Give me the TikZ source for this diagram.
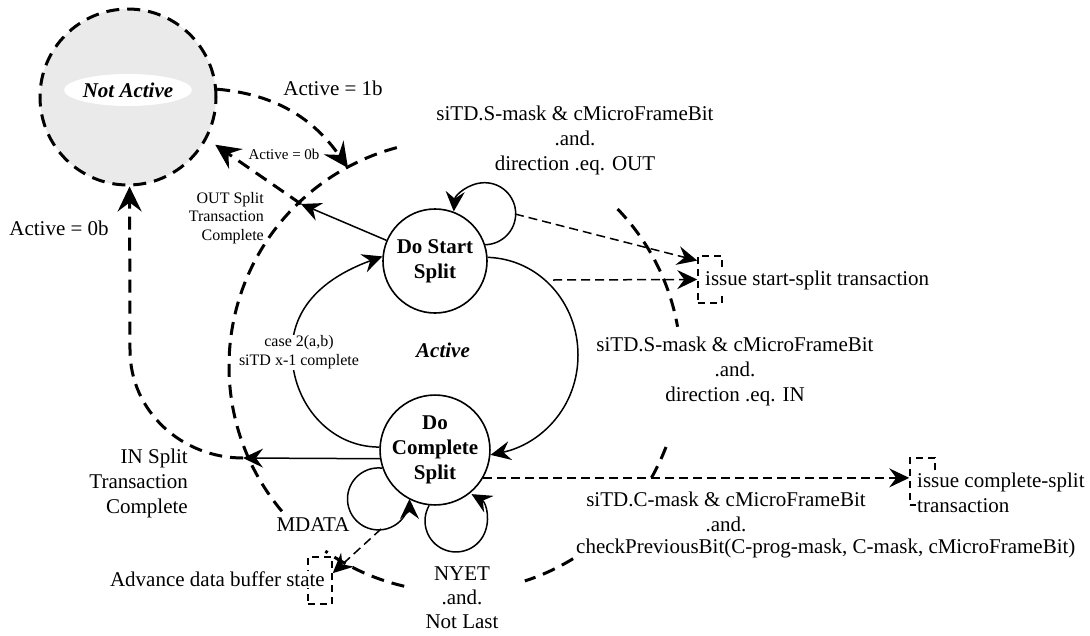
\documentclass[tikz,border=0pt]{standalone}
\usepackage{fontspec}
\setmainfont{Liberation Serif}
\usetikzlibrary{arrows.meta,shapes.geometric}
\definecolor{nafill}{HTML}{EAEAEA}
\begin{document}
\begin{tikzpicture}[x=1pt,y=-1pt,
  lbl/.style={font=\fontsize{21}{25}\selectfont, inner sep=1pt},
  lblS/.style={font=\fontsize{16}{18.5}\selectfont, inner sep=1pt},
  lblXS/.style={font=\fontsize{15}{18}\selectfont, inner sep=1pt},
  state/.style={circle, draw, line width=1.6pt, minimum size=104pt, inner sep=0pt, align=center,
                font=\fontsize{21}{25}\selectfont\bfseries},
  thickdash/.style={line width=3pt, dash pattern=on 13pt off 8pt},
  thindash/.style={line width=1.5pt, dash pattern=on 9pt off 5pt},
  boxdash/.style={draw, line width=1.5pt, dash pattern=on 7pt off 5pt, inner sep=0pt},
  arrA/.style={-{Stealth[length=20pt,width=19pt,inset=7pt]}},
  arrB/.style={-{Stealth[length=25pt,width=24pt,inset=9pt]}},
  solidA/.style={line width=1.5pt, arrA}
]
\useasboundingbox (0,0) rectangle (1090,635);

% boundary of the Active region (dashed circle with gaps)
\coordinate (C) at (455,366);
\draw[thickdash] (C) ++(44:226pt) arc[start angle=44, end angle=10, radius=226pt];
\draw[thickdash] (C) ++(-21:226pt) arc[start angle=-21, end angle=-31, radius=226pt];
\draw[thickdash] (C) ++(-58.5:226pt) arc[start angle=-58.5, end angle=-72, radius=226pt];
\draw[thickdash] (C) ++(-103:226pt) arc[start angle=-103, end angle=-125, radius=226pt];
\draw[thickdash] (C) ++(-140:226pt) arc[start angle=-140, end angle=-256, radius=226pt];

% states
\node[circle, draw, thickdash, fill=nafill, minimum size=176pt, inner sep=0pt] (na) at (128,97) {};
\node[ellipse, fill=white, minimum width=120pt, minimum height=32pt, inner sep=0pt,
      font=\fontsize{21}{25}\selectfont\bfseries\itshape] (nalbl) at (128,90) {Not Active};
\node[state] (ds) at (435,261) {Do Start\\Split};
\node[state, minimum size=106pt] (dc) at (435,450) {Do\\Complete\\Split};

% coordinates
\coordinate (outTip) at (301,204);
\coordinate (inTip) at (243,458);
\coordinate (oneTip) at (348,168);
\coordinate (l1) at (515,214);
\coordinate (l2) at (381,529);
\coordinate (ds2) at (553,280);
\coordinate (rm) at (578,355);
\coordinate (lm) at (292,352);
\coordinate (lv) at (130,350);

% action boxes
\node[boxdash, minimum width=24pt, minimum height=47pt] (ib1) at (710,279.5) {};
\node[boxdash, minimum width=25pt, minimum height=47pt] (ib2) at (922.5,481.5) {};
\node[boxdash, minimum width=24pt, minimum height=47pt] (ib3) at (320,580.5) {};
\node[lbl, anchor=west, fill=white] (t1) at (704,280) {issue start-split transaction};
\node[lbl, anchor=west, fill=white, align=left] (t2) at (916,492.5) {issue complete-split\\transaction};
\node[lbl, anchor=east, fill=white] (t3) at (326,579) {Advance data buffer state};

% big transitions
\draw[solidA] (ds.4) to[out=-2,in=90] (rm) to[out=-90,in=12] (dc.-5);
\draw[solidA] (dc.177) to[out=180,in=-90] (lm) to[out=90,in=200] (ds.175);

% self loops
\draw[solidA] (ds.18) arc[start angle=-89, end angle=176, radius=31pt];
\draw[solidA] (dc.199) arc[start angle=83, end angle=360, radius=31pt];
\draw[solidA] (dc.-96) arc[start angle=150, end angle=420, radius=31pt];

% exits
\draw[solidA] (ds) -- (outTip);
\draw[solidA] (dc.189) -- (inTip);
\draw[thickdash, arrB, shorten >=10pt] (outTip) -- (na.-28);
\draw[thickdash, arrB] (na.5) to[out=-5,in=125] (oneTip);
\draw[thickdash, arrB] (inTip) to[out=180,in=-90] (lv) -- (na.-89);

% actions
\draw[thindash, arrA] (l1) -- (ib1.124);
\draw[thindash, arrA] (ds2) -- (ib1.west);
\draw[thindash, arrA] (dc.-30) -- (dc.-30 -| ib2.west);
\draw[thindash, arrA] (l2) -- (ib3.30);

% labels
\node[lbl, align=center] (c1) at (575,140) {siTD.S-mask \& cMicroFrameBit\\.and.\\direction .eq. OUT};
\node[lbl, align=center] (c2) at (735,371) {siTD.S-mask \& cMicroFrameBit\\.and.\\direction .eq. IN};
\node[lbl, align=center] (c3) at (726,512) {siTD.C-mask \& cMicroFrameBit\\.and.};
\node[lbl, anchor=west] (c4) at (575,548) {checkPreviousBit(C-prog-mask, C-mask, cMicroFrameBit)};
\node[lbl, align=center, font=\fontsize{21}{24}\selectfont] (c5) at (462,598) {NYET\\.and.\\Not Last};
\node[lbl] (c6) at (313,525) {MDATA};
\node[lbl] (c7) at (333,88) {Active = 1b};
\node[lbl] (c8) at (59,228) {Active = 0b};
\node[lbl, align=right, anchor=east] (c9) at (189,483) {IN Split\\Transaction\\Complete};
\node[lblS, align=right, anchor=east] (c10) at (265,218) {OUT Split\\Transaction\\Complete};
\node[lblXS] (c11) at (284,154) {Active = 0b};
\node[lblS, align=center, fill=white] (c12) at (299,352) {case 2(a,b)\\siTD x-1 complete};
\node[lbl, font=\fontsize{21}{25}\selectfont\bfseries\itshape] (c13) at (443,350) {Active};
\end{tikzpicture}
\end{document}
